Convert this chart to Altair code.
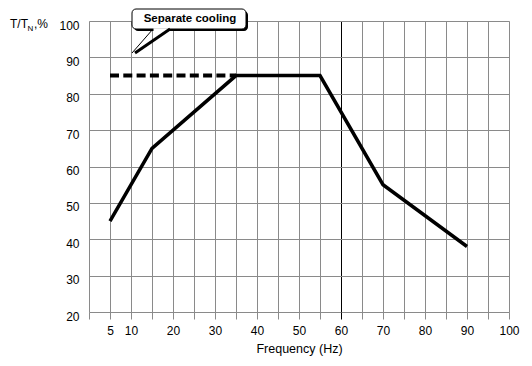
import altair as alt
import pandas as pd

# Data
freq = [5, 15, 35, 55, 70, 90]
torque = [45, 65, 85, 85, 55, 38]
cool_freq = [5, 35]
cool_torque = [85, 85]
x_ticks = list(range(0, 101, 5))
x_labels = [5, 10, 20, 30, 40, 50, 60, 70, 80, 90, 100]
y_ticks = [20, 30, 40, 50, 60, 70, 80, 90, 100]

FONT = "Liberation Sans"
GRID = "#8a8a8a"

main_df = pd.DataFrame({"f": freq, "t": torque})
cool_df = pd.DataFrame({"f": cool_freq, "t": cool_torque})
one = pd.DataFrame({"a": [0]})

label_expr = "indexof([" + ",".join(str(v) for v in x_labels) + "], datum.value) >= 0 ? datum.label : ''"

xscale = alt.Scale(domain=[0, 100], nice=False, zero=False)
yscale = alt.Scale(domain=[20, 100], nice=False, zero=False)

xaxis = alt.Axis(
    values=x_ticks, labelExpr=label_expr, title="Frequency (Hz)",
    grid=True,
    gridColor={"condition": {"test": "datum.value === 60", "value": "#000000"}, "value": GRID},
    gridWidth=1, domain=False, ticks=True, tickSize=7,
    tickColor={"condition": {"test": "datum.value === 60", "value": "#000000"}, "value": GRID},
    labelPadding=6, labelFontSize=12, labelFont=FONT, labelColor="#000",
    labelOverlap=False,
    titleFont=FONT, titleFontSize=12.5, titleFontWeight="normal", titleColor="#000",
    titlePadding=6, labelFlush=False,
)
yaxis = alt.Axis(
    values=y_ticks, title=None, grid=True, gridColor=GRID, gridWidth=1,
    domain=False, ticks=False, labelPadding=10, labelFontSize=12, labelFont=FONT,
    labelColor="#000", labelBaseline="middle", labelOffset=4, labelOverlap=False,
)

x_enc = alt.X("f:Q", scale=xscale, axis=xaxis)
y_enc = alt.Y("t:Q", scale=yscale, axis=yaxis)

main = alt.Chart(main_df).mark_line(color="black", strokeWidth=3.5, strokeJoin="miter", clip=False).encode(
    x=x_enc, y=y_enc,
)

cool = alt.Chart(cool_df).mark_line(color="black", strokeWidth=4, strokeDash=[9, 4.3]).encode(
    x=x_enc, y=y_enc,
)

# Callout "Separate cooling"
shadow = alt.Chart(one).mark_rect(color="black", cornerRadius=4).encode(
    x=alt.value(45), x2=alt.value(159), y=alt.value(-10), y2=alt.value(10)
)
box = alt.Chart(one).mark_rect(fill="white", stroke="black", strokeWidth=1, cornerRadius=4).encode(
    x=alt.value(43), x2=alt.value(157), y=alt.value(-12), y2=alt.value(8)
)
gap = alt.Chart(one).mark_rule(color="white", strokeWidth=3.5).encode(
    x=alt.value(64.5), x2=alt.value(80), y=alt.value(9), y2=alt.value(9)
)
tail_thin = alt.Chart(one).mark_rule(color="black", strokeWidth=1).encode(
    x=alt.value(64), y=alt.value(8), x2=alt.value(43), y2=alt.value(32)
)
tail_thick = alt.Chart(one).mark_rule(color="black", strokeWidth=3).encode(
    x=alt.value(81), y=alt.value(8), x2=alt.value(46), y2=alt.value(32)
)
box_text = alt.Chart(one).mark_text(
    text="Separate cooling", font=FONT, fontSize=11.5, fontWeight="bold",
    color="black", align="center", baseline="middle"
).encode(x=alt.value(101), y=alt.value(-2.5))

# Y title "T/T_N,%"
t1 = alt.Chart(one).mark_text(text="T/T", font=FONT, fontSize=12, align="left",
                              baseline="alphabetic", color="black").encode(x=alt.value(-79), y=alt.value(7))
t2 = alt.Chart(one).mark_text(text="N", font=FONT, fontSize=8, align="left",
                              baseline="alphabetic", color="black").encode(x=alt.value(-61.5), y=alt.value(9.5))
t3 = alt.Chart(one).mark_text(text=",%", font=FONT, fontSize=12, align="left",
                              baseline="alphabetic", color="black").encode(x=alt.value(-55), y=alt.value(7))

chart = alt.layer(
    main, cool, shadow, box, gap, tail_thin, tail_thick, box_text, t1, t2, t3
).properties(
    width=420, height=291,
    autosize=alt.AutoSizeParams(type="none"),
    padding={"left": 81, "top": 13, "right": 15, "bottom": 50},
).configure_view(
    stroke="black", strokeWidth=1.5
).configure(background="white")

chart.save("out.html", embed_options={"renderer": "svg", "actions": False})
